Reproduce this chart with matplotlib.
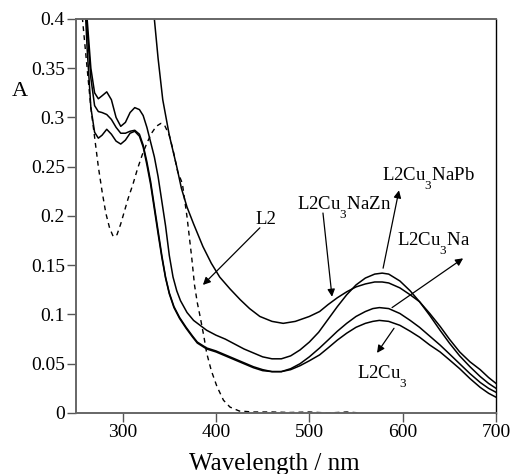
import matplotlib
matplotlib.use("Agg")
import matplotlib.pyplot as plt
from matplotlib.ticker import FormatStrFormatter

plt.rcParams['font.family'] = ['Liberation Serif', 'DejaVu Serif']
plt.rcParams['mathtext.fontset'] = 'custom'
plt.rcParams['mathtext.rm'] = 'Liberation Serif'
plt.rcParams['mathtext.it'] = 'Liberation Serif:italic'
plt.rcParams['mathtext.default'] = 'regular'

# the original figure drops its subscripts well below the baseline
try:
    from matplotlib import _mathtext
    _mathtext.FontConstantsBase.sub1 = 1.0
    _mathtext.FontConstantsBase.sub2 = 1.2
except Exception:
    pass

# L2Cu3NaPb (highest visible band)
wl_napb = [258, 262, 266, 270, 274, 278, 283, 288, 293, 298, 303, 308, 313, 318, 322,
           326, 330, 334, 338, 342, 346, 350, 354, 358, 362, 369, 376, 383, 390, 400,
           410, 420, 430, 440, 450, 460, 470, 480, 490, 500, 510, 520, 530, 540, 550,
           560, 570, 578, 585, 597, 608, 618, 629, 640, 650, 661, 672, 683, 692, 700]
a_napb = [0.45, 0.40, 0.35, 0.325, 0.319, 0.322, 0.326, 0.318, 0.300, 0.291, 0.295, 0.305,
          0.310, 0.308, 0.302, 0.29, 0.275, 0.26, 0.24, 0.215, 0.19, 0.16, 0.138, 0.124,
          0.114, 0.102, 0.094, 0.089, 0.084, 0.079, 0.075, 0.070, 0.065, 0.061, 0.057,
          0.055, 0.055, 0.058, 0.064, 0.072, 0.082, 0.095, 0.108, 0.120, 0.130, 0.137,
          0.141, 0.142, 0.141, 0.134, 0.124, 0.113, 0.099, 0.084, 0.071, 0.058, 0.047,
          0.037, 0.030, 0.025]

# L2Cu3NaZn
wl_nazn = [326, 330, 334, 338, 343, 350, 358, 363, 369, 376, 386, 395, 404, 415, 426,
           436, 447, 460, 472, 485, 500, 511, 520, 530, 540, 550, 560, 570, 578,
           585, 597, 608, 618, 629, 640, 650, 661, 672, 683, 692, 700]
a_nazn = [0.48, 0.44, 0.40, 0.36, 0.318, 0.282, 0.25, 0.228, 0.209, 0.192, 0.169, 0.152,
          0.138, 0.126, 0.115, 0.106, 0.098, 0.093, 0.091, 0.093, 0.098, 0.103,
          0.110, 0.117, 0.123, 0.128, 0.131, 0.133, 0.133, 0.132, 0.127, 0.120, 0.113,
          0.101, 0.088, 0.075, 0.062, 0.052, 0.044, 0.036, 0.030]

# L2Cu3Na
wl_na = [258, 262, 266, 270, 274, 278, 283, 288, 293, 298, 303, 308, 313, 318, 322, 326,
         330, 334, 338, 342, 346, 350, 355, 361, 368, 375, 380, 390, 400, 410, 420, 430,
         440, 450, 460, 470, 480, 490, 500, 511, 520, 530, 540, 550, 560, 568, 575, 585,
         597, 608, 618, 629, 640, 650, 661, 672, 683, 692, 700]
a_na = [0.45, 0.39, 0.34, 0.312, 0.306, 0.305, 0.303, 0.298, 0.290, 0.284, 0.284, 0.286,
        0.287, 0.283, 0.272, 0.255, 0.235, 0.21, 0.185, 0.16, 0.138, 0.122, 0.108, 0.097,
        0.087, 0.078, 0.072, 0.066, 0.063, 0.059, 0.055, 0.051, 0.047, 0.044, 0.042,
        0.042, 0.045, 0.050, 0.057, 0.066, 0.074, 0.083, 0.091, 0.098, 0.103, 0.106,
        0.107, 0.106, 0.101, 0.094, 0.087, 0.078, 0.069, 0.060, 0.050, 0.040, 0.031,
        0.025, 0.021]

# L2Cu3
wl_cu3 = wl_na
a_cu3 = [0.45, 0.37, 0.31, 0.285, 0.279, 0.282, 0.288, 0.283, 0.276, 0.273, 0.277, 0.284,
         0.286, 0.281, 0.270, 0.252, 0.232, 0.207, 0.182, 0.158, 0.137, 0.121, 0.107,
         0.096, 0.086, 0.077, 0.071, 0.065, 0.062, 0.058, 0.054, 0.050, 0.046, 0.043,
         0.042, 0.042, 0.044, 0.048, 0.053, 0.059, 0.066, 0.074, 0.081, 0.087, 0.091,
         0.093, 0.094, 0.093, 0.089, 0.083, 0.077, 0.069, 0.062, 0.054, 0.045, 0.035,
         0.026, 0.020, 0.016]

# L2 (free ligand, dashed)
wl_l2 = [255, 258, 262, 266, 270, 274, 278, 282, 286, 290, 294, 298, 302, 306, 311, 316,
         321, 326, 331, 336, 341, 345, 350, 354, 359, 364, 369, 374, 377, 380, 383, 387,
         390, 395, 401, 408, 415, 425, 440, 460, 480, 500, 520, 540, 555]
a_l2 = [0.42, 0.39, 0.35, 0.31, 0.28, 0.25, 0.225, 0.203, 0.188, 0.179, 0.181, 0.192,
        0.205, 0.218, 0.232, 0.248, 0.262, 0.274, 0.284, 0.291, 0.294, 0.292, 0.282,
        0.267, 0.245, 0.233, 0.199, 0.158, 0.13, 0.112, 0.098, 0.078, 0.061, 0.043,
        0.027, 0.013, 0.006, 0.002, 0.001, 0.001, 0.0005, 0.001, 0.0, 0.001, 0.0]

x_ticks = [300, 400, 500, 600, 700]
y_ticks = [0, 0.05, 0.1, 0.15, 0.2, 0.25, 0.3, 0.35, 0.4]

fig = plt.figure(figsize=(5.13, 4.74), dpi=100)
ax = fig.add_axes([0.148, 0.1287, 0.819, 0.8313])

for wl, a in [(wl_napb, a_napb), (wl_nazn, a_nazn), (wl_na, a_na), (wl_cu3, a_cu3)]:
    ax.plot(wl, a, color='black', lw=1.1)
ax.plot(wl_l2, a_l2, color='black', lw=1.0, linestyle=(0, (3.5, 3)))

ax.set_xlim(250, 700)
ax.set_ylim(0, 0.4)
ax.set_xticks(x_ticks)
ax.set_yticks(y_ticks)
ax.yaxis.set_major_formatter(FormatStrFormatter('%g'))
ax.tick_params(direction='out', length=6.5, width=1.0, color='#555555',
               labelsize=14, pad=1.5, top=False, right=False)

for side in ['left', 'bottom', 'top']:
    ax.spines[side].set_color('#666666')
    ax.spines[side].set_linewidth(1.4)
ax.spines['right'].set_color('black')
ax.spines['right'].set_linewidth(1.0)

arrow = dict(arrowstyle='-|>', color='black', lw=0.9, mutation_scale=11,
             shrinkA=0, shrinkB=0)

# (text, text x, text baseline y, arrow tail, arrow head)
labels = [
    ('L2', 441.8, 0.192, (447, 0.188), (386, 0.130)),
    ('L2Cu$_3$NaZn', 487.1, 0.207, (514.6, 0.203), (524.3, 0.118)),
    ('L2Cu$_3$NaPb', 577.5, 0.2365, (579, 0.147), (596, 0.226)),
    ('L2Cu$_3$Na', 593.6, 0.1706, (588.6, 0.107), (664.7, 0.157)),
    ('L2Cu$_3$', 550.7, 0.0359, (590.7, 0.086), (572.5, 0.061)),
]
for text, tx, ty, tail, head in labels:
    ax.text(tx, ty, text, fontsize=13.5, ha='left', va='baseline')
    ax.annotate('', xy=head, xytext=tail, arrowprops=arrow)

ax.text(-0.152, 0.8046, 'A', transform=ax.transAxes, fontsize=16,
        ha='left', va='baseline')
fig.text(0.534, 0.0084, 'Wavelength / nm', fontsize=18, ha='center', va='baseline')

fig.savefig('out.png', dpi=100)
